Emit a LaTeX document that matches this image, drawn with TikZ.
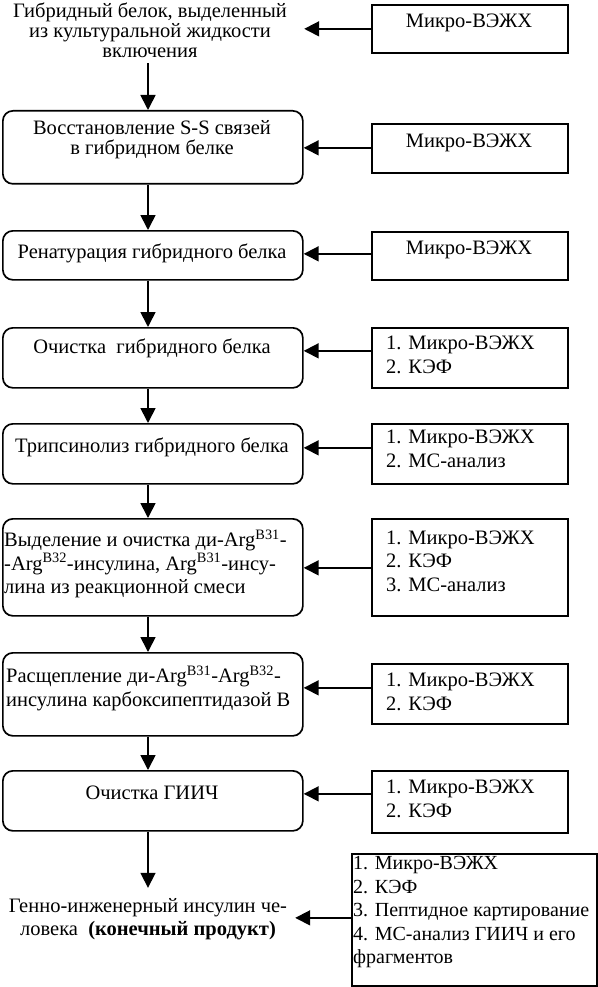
\documentclass[tikz,border=0pt]{standalone}
\usepackage{fontspec}
\setmainfont{Liberation Serif}
\usetikzlibrary{arrows.meta}
\begin{document}
\begin{tikzpicture}[x=1pt,y=-1pt,
  lbox/.style={draw, line width=1.7pt, rounded corners=10pt, minimum width=300pt, inner sep=0pt, anchor=north west},
  rbox/.style={draw, line width=1.7pt, minimum width=196pt, inner sep=0pt, anchor=north west},
  txt/.style={inner sep=0pt, font=\fontsize{20.5}{23.5}\selectfont},
  tight/.style={font=\fontsize{20.5}{20}\selectfont},
  arr/.style={line width=1.7pt, -{Triangle[width=15pt,length=15pt]}}]
\useasboundingbox (0,0) rectangle (597,987);
\coordinate (ax) at (148,0);
% left boxes
\node[lbox, minimum height=73pt] (b1) at (2,110) {};
\node[lbox, minimum height=49pt] (b2) at (2,230) {};
\node[lbox, minimum height=60pt] (b3) at (2,327) {};
\node[lbox, minimum height=60pt] (b4) at (2,423) {};
\node[lbox, minimum height=97pt] (b5) at (2,518) {};
\node[lbox, minimum height=83pt] (b6) at (2,652) {};
\node[lbox, minimum height=60pt] (b7) at (2,770) {};
% right boxes
\node[rbox, minimum height=48pt] (r1) at (371,4) {};
\node[rbox, minimum height=49pt] (r2) at (371,123) {};
\node[rbox, minimum height=48pt] (r3) at (371,231) {};
\node[rbox, minimum height=60pt] (r4) at (371,327) {};
\node[rbox, minimum height=60pt] (r5) at (371,423) {};
\node[rbox, minimum height=97pt] (r6) at (371,518) {};
\node[rbox, minimum height=60pt] (r7) at (371,663) {};
\node[rbox, minimum height=62pt] (r8) at (371,770) {};
\node[rbox, minimum height=132pt, minimum width=245pt] (r9) at (351,853) {};
% top and final texts
\node[txt, tight, align=center, minimum width=308pt, minimum height=66pt] (t0) at (150,30)
  {Гибридный белок, выделенный\\из культуральной жидкости\\включения};
\node[txt, align=center, minimum width=294pt, minimum height=62pt] (fin) at (148,919)
  {Генно-инженерный инсулин че-\\ловека~ \textbf{(конечный продукт)}};
% texts in left boxes
\node[txt, tight, align=center] (x1) at (152,140) {Восстановление S-S связей\\в гибридном белке};
\node[txt] (x2) at (152,253) {Ренатурация гибридного белка};
\node[txt] (x3) at (152,348) {Очистка~ гибридного белка};
\node[txt] (x4) at (152,447) {Трипсинолиз гибридного белка};
\node[txt, align=left, anchor=west] (x5) at (4,564)
  {Выделение и очистка ди-Arg\textsuperscript{B31}-\\-Arg\textsuperscript{B32}-инсулина, Arg\textsuperscript{B31}-инсу-\\лина из реакционной смеси};
\node[txt, align=left, anchor=west] (x6) at (6,688)
  {Расщепление ди-Arg\textsuperscript{B31}-Arg\textsuperscript{B32}-\\инсулина карбоксипептидазой В};
\node[txt] (x7) at (152,793) {Очистка ГИИЧ};
% texts in right boxes
\node[txt] (y1) at (469,23) {Микро-ВЭЖХ};
\node[txt] (y2) at (469,143) {Микро-ВЭЖХ};
\node[txt] (y3) at (469,250) {Микро-ВЭЖХ};
\node[txt, align=left, anchor=west] (y4) at (386,355) {1. Микро-ВЭЖХ\\2. КЭФ};
\node[txt, align=left, anchor=west] (y5) at (386,449) {1. Микро-ВЭЖХ\\2. МС-анализ};
\node[txt, align=left, anchor=west] (y6) at (386,561) {1. Микро-ВЭЖХ\\2. КЭФ\\3. МС-анализ};
\node[txt, align=left, anchor=west] (y7) at (386,692) {1. Микро-ВЭЖХ\\2. КЭФ};
\node[txt, align=left, anchor=west] (y8) at (386,799) {1. Микро-ВЭЖХ\\2. КЭФ};
\node[txt, align=left, anchor=west, font=\fontsize{20}{23.5}\selectfont] (y9) at (353,912)
  {1. Микро-ВЭЖХ\\2. КЭФ\\3. Пептидное картирование\\4. МС-анализ ГИИЧ и его\\фрагментов};
% vertical arrows
\draw[arr] (t0.south -| ax) -- (b1.north -| ax);
\draw[arr] (b1.south -| ax) -- (b2.north -| ax);
\draw[arr] (b2.south -| ax) -- (b3.north -| ax);
\draw[arr] (b3.south -| ax) -- (b4.north -| ax);
\draw[arr] (b4.south -| ax) -- (b5.north -| ax);
\draw[arr] (b5.south -| ax) -- (b6.north -| ax);
\draw[arr] (b6.south -| ax) -- (b7.north -| ax);
\draw[arr] (b7.south -| ax) -- (fin.north -| ax);
% horizontal arrows
\draw[arr] (r1.west) -- (r1.west -| t0.east);
\draw[arr] ([yshift=0.5pt]r2.west) -- ([yshift=0.5pt]r2.west -| b1.east);
\draw[arr] ([yshift=2pt]r3.west) -- ([yshift=2pt]r3.west -| b2.east);
\draw[arr] ([yshift=7pt]r4.west) -- ([yshift=7pt]r4.west -| b3.east);
\draw[arr] ([yshift=6pt]r5.west) -- ([yshift=6pt]r5.west -| b4.east);
\draw[arr] ([yshift=-0.5pt]r6.west) -- ([yshift=-0.5pt]r6.west -| b5.east);
\draw[arr] ([yshift=6pt]r7.west) -- ([yshift=6pt]r7.west -| b6.east);
\draw[arr] ([yshift=8pt]r8.west) -- ([yshift=8pt]r8.west -| b7.east);
\draw[arr] ([yshift=2pt]r9.west) -- ([yshift=2pt]r9.west -| fin.east);
\end{tikzpicture}
\end{document}
